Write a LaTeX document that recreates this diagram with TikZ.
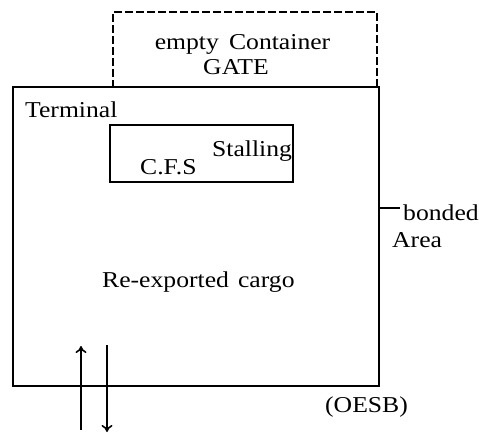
\documentclass[tikz,border=0pt]{standalone}
\usepackage{fontspec}
\setmainfont[FakeStretch=1.13]{Liberation Serif}
\usetikzlibrary{arrows.meta}
\tikzset{
  box/.style={draw, line width=1.5pt, rectangle, inner sep=0pt},
  gatebox/.style={draw, line width=1.4pt, dash pattern=on 8pt off 3pt, rectangle, inner sep=0pt},
  lbl/.style={inner sep=0pt, font=\fontsize{22.7}{27}\selectfont},
  flow/.style={line width=1.6pt, -{To[length=7pt,width=11pt]}},
  tick/.style={line width=1.3pt}
}
\begin{document}
\begin{tikzpicture}[x=1pt,y=-1pt]
\useasboundingbox (0,0) rectangle (479,433);
% dashed gate area
\node[gatebox, minimum width=264pt, minimum height=75pt] (gate) at (245,49.5) {};
% terminal
\node[box, fill=white, minimum width=366pt, minimum height=299pt] (term) at (196,236.5) {};
% C.F.S box
\node[box, minimum width=183pt, minimum height=57pt] (cfs) at (201.5,153.5) {};
% texts
\node[lbl, anchor=base] (gt1) at (242.5,50) {empty\hspace{0.45em}Container};
\node[lbl, anchor=base] (gt2) at (236,75) {GATE};
\node[lbl, anchor=base west] (tl) at (25,118) {Terminal};
\node[lbl, anchor=base west] (cfsl) at (140,175) {C.F.S};
\node[lbl, anchor=base west] (stl) at (212,157) {Stalling};
\node[lbl, anchor=base west] (bond) at (403,220) {bonded};
\node[lbl, anchor=base west] (area) at (392,247) {Area};
\node[lbl, anchor=base west] (reex) at (102,287) {Re-exported\hspace{0.4em}cargo};
\node[lbl, anchor=base west] (oesb) at (325,412) {(OESB)};
% bonded pointer
\coordinate (bp) at (379,208);
\coordinate (bq) at (400,208);
\draw[tick] (bp) -- (bq);
% in/out arrows
\coordinate (ua) at (81,430);
\coordinate (ub) at (81,346);
\coordinate (da) at (107,345);
\coordinate (db) at (107,432);
\draw[flow] (ua) -- (ub);
\draw[flow] (da) -- (db);
\end{tikzpicture}
\end{document}
